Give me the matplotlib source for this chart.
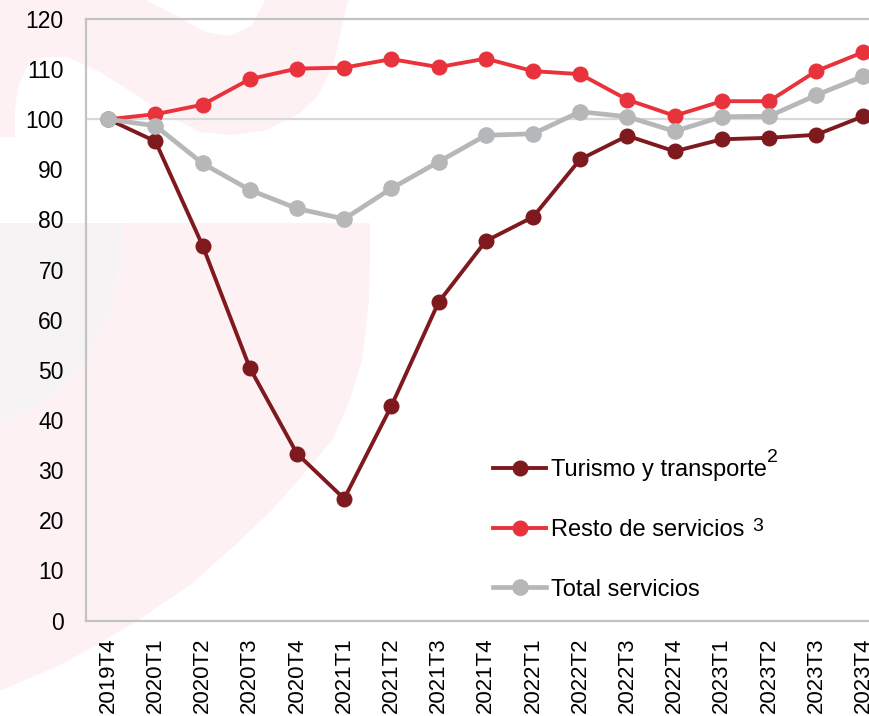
import matplotlib
matplotlib.use("Agg")
import matplotlib.pyplot as plt
from matplotlib.patches import Polygon

plt.rcParams['font.family'] = ['Liberation Sans', 'DejaVu Sans']

categories = ['2019T4', '2020T1', '2020T2', '2020T3', '2020T4', '2021T1', '2021T2',
              '2021T3', '2021T4', '2022T1', '2022T2', '2022T3', '2022T4', '2023T1',
              '2023T2', '2023T3', '2023T4']
turismo = [100, 95.6, 74.8, 50.4, 33.3, 24.3, 42.8, 63.5, 75.7, 80.5, 92.0, 96.7,
           93.6, 96.0, 96.3, 96.9, 100.6]
resto = [100, 101.0, 102.9, 108.0, 110.1, 110.3, 112.0, 110.4, 112.1, 109.6, 109.0,
         103.9, 100.7, 103.6, 103.6, 109.6, 113.4]
total = [100, 98.7, 91.2, 85.9, 82.2, 80.1, 86.2, 91.5, 96.8, 97.1, 101.5, 100.5,
         97.6, 100.5, 100.6, 104.8, 108.6]
labels = ['Turismo y transporte', 'Resto de servicios', 'Total servicios']
sups = ['2', '3']
yticks = [0, 10, 20, 30, 40, 50, 60, 70, 80, 90, 100, 110, 120]

c_dark = '#7e191e'
c_red = '#e8323c'
c_gray = '#b6b7b9'

W, H = 869, 716
fig = plt.figure(figsize=(W / 100, H / 100), dpi=100)

# background watermark (decoration)
bg = fig.add_axes([0, 0, 1, 1], zorder=-5)
bg.set_xlim(0, W)
bg.set_ylim(H, 0)
bg.axis('off')
pink = '#fdf1f3'
grey_bg = '#f5f3f4'
top_shape = [(0, 0), (145, 0), (175, 15), (205, 32), (230, 36), (252, 25), (265, 0),
             (348, 0), (340, 35), (333, 67), (317, 97), (300, 113), (267, 130),
             (233, 135), (200, 132), (167, 115), (133, 93), (100, 72), (67, 57),
             (43, 57), (27, 67), (18, 87), (15, 110), (15, 137), (0, 137)]
bg.add_patch(Polygon(top_shape, closed=True, facecolor=pink, edgecolor='none'))
big_shape = [(123, 223), (370, 223), (370, 260), (369, 300), (362, 360), (350, 400),
             (333, 439), (303, 475), (270, 512), (233, 547), (190, 585), (140, 619),
             (100, 643), (60, 665), (0, 691), (0, 424), (40, 405), (80, 370),
             (110, 312), (120, 260)]
bg.add_patch(Polygon(big_shape, closed=True, facecolor=pink, edgecolor='none'))
grey_shape = [(0, 223), (123, 223), (120, 260), (110, 312), (80, 370), (40, 405), (0, 424)]
bg.add_patch(Polygon(grey_shape, closed=True, facecolor=grey_bg, edgecolor='none'))

# main axes
left_px, bottom_px, top_px = 86, 620.5, 19
unit = 47.2
x0, x1 = -0.47, 16.53
ax = fig.add_axes([left_px / W, (H - bottom_px) / H, (x1 - x0) * unit / W,
                   (bottom_px - top_px) / H], zorder=1)
ax.set_facecolor('none')

x = list(range(len(categories)))
ax.axhline(100, color='#d9d9d9', lw=1.6, zorder=1)
ax.plot(x, turismo, color=c_dark, lw=2.8, marker='o', ms=10.5, mec=c_dark, mfc=c_dark,
        label=labels[0], zorder=3, clip_on=False)
ax.plot(x, resto, color=c_red, lw=2.8, marker='o', ms=10.5, mec=c_red, mfc=c_red,
        label=labels[1], zorder=4, clip_on=False)
ax.plot(x, total, color=c_gray, lw=3.4, marker='o', ms=11, mec=c_gray, mfc=c_gray,
        label=labels[2], zorder=5, clip_on=False)

ax.set_xlim(x0, x1)
ax.set_ylim(0, 120)
ax.set_yticks(yticks)
ax.set_yticklabels([str(v) for v in yticks])
ax.set_xticks(x)
ax.set_xticklabels(categories, rotation=90)
ax.tick_params(axis='y', length=0, pad=16, labelsize=16.5, colors='black')
ax.tick_params(axis='x', length=0, pad=12, labelsize=16, colors='black')
for s in ['left', 'bottom', 'top']:
    ax.spines[s].set_color('#c3c3c3')
    ax.spines[s].set_linewidth(1.6)
ax.spines['right'].set_visible(False)

leg = ax.legend(loc='upper left', bbox_to_anchor=(493 / W, (H - 459) / H),
                bbox_transform=fig.transFigure, frameon=False, fontsize=17,
                handlelength=2.25, handletextpad=0.2, labelspacing=1.6,
                borderpad=0, borderaxespad=0, numpoints=1)

fig.canvas.draw()
r = fig.canvas.get_renderer()
texts = leg.get_texts()
e0 = texts[0].get_window_extent(r)
e1 = texts[1].get_window_extent(r)
fig.text(e0.x1 / W, (e0.y1 + 10) / H, sups[0], fontsize=14, va='top', ha='left')
fig.text((e1.x1 + 8) / W, (e1.y1 + 1) / H, sups[1], fontsize=14, va='top', ha='left')

fig.savefig('out.png', dpi=100)
